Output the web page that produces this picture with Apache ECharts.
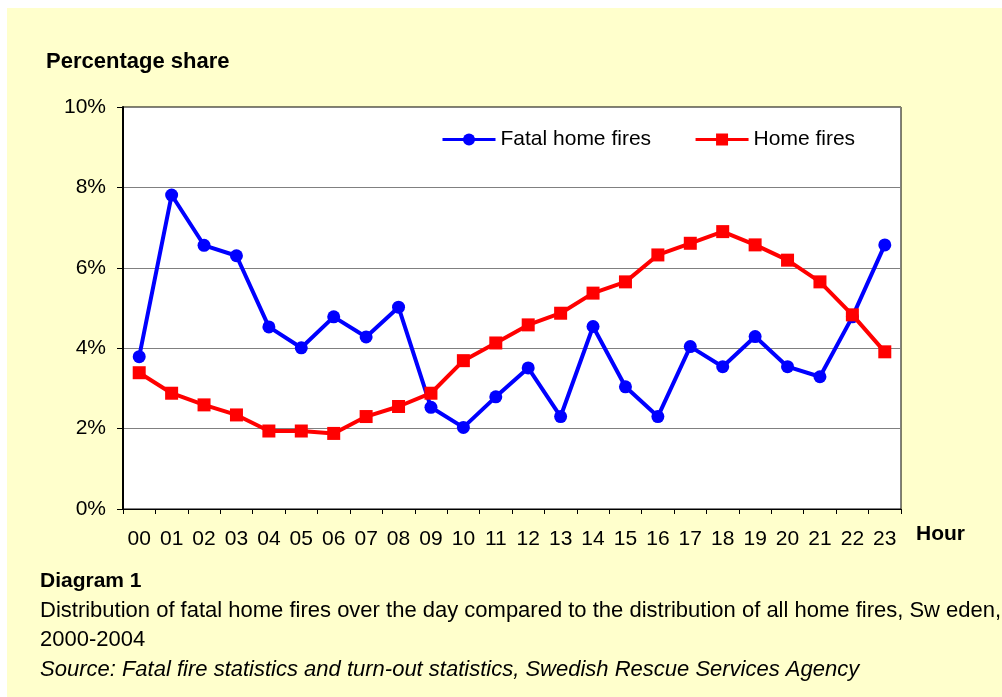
<!DOCTYPE html>
<html>
<head>
<meta charset="utf-8">
<script src="https://cdn.jsdelivr.net/npm/echarts@6/dist/echarts.min.js"></script>
<style>
html,body{margin:0;padding:0;background:#fff;}
#chart{width:1002px;height:697px;}
</style>
</head>
<body>
<div id="chart"></div>
<script>
const hours = ['00','01','02','03','04','05','06','07','08','09','10','11','12','13','14','15','16','17','18','19','20','21','22','23'];
const fatalHomeFires = [3.79,7.81,6.56,6.30,4.53,4.01,4.78,4.28,5.02,2.53,2.03,2.79,3.51,2.30,4.54,3.04,2.30,4.04,3.54,4.29,3.54,3.29,4.78,6.57];
const homeFires = [3.39,2.88,2.59,2.34,1.94,1.94,1.88,2.30,2.55,2.88,3.69,4.13,4.58,4.87,5.37,5.65,6.32,6.61,6.90,6.57,6.19,5.65,4.83,3.91];
const yTicks = {min:0, max:10, interval:2};

const FONT = 'Liberation Sans, Arial, sans-serif';
const chart = echarts.init(document.getElementById('chart'), null, {renderer:'canvas'});
chart.setOption({
  backgroundColor:'#fff',
  animation:false,
  graphic:[
    {type:'rect', left:7, top:8, z:-10, shape:{width:995, height:689}, style:{fill:'#FFFFCC'}},
    {type:'text', left:46, top:51, style:{text:'Percentage share', font:'bold 22px '+FONT, fill:'#000'}},
    {type:'text', left:916, top:524, style:{text:'Hour', font:'bold 21px '+FONT, fill:'#000'}},
    {type:'text', left:40, top:571, style:{text:'Diagram 1', font:'bold 21px '+FONT, fill:'#000'}},
    {type:'text', left:40, top:600, style:{text:'Distribution of fatal home fires over the day compared to the distribution of all home fires, Sw eden,', font:'22px '+FONT, fill:'#000'}},
    {type:'text', left:40, top:629, style:{text:'2000-2004', font:'22px '+FONT, fill:'#000'}},
    {type:'text', left:40, top:659, style:{text:'Source: Fatal fire statistics and turn-out statistics, Swedish Rescue Services Agency', font:'italic 22px '+FONT, fill:'#000'}}
  ],
  grid:{left:123, top:107, right:101, bottom:188, show:true, backgroundColor:'#fff', borderColor:'#000', borderWidth:1},
  legend:{
    left:441, top:129, padding:0, itemWidth:53, itemHeight:15, itemGap:43,
    lineStyle:{width:3},
    textStyle:{fontFamily:FONT, fontSize:21, color:'#000', padding:[0,0,0,0]},
    data:['Fatal home fires','Home fires']
  },
  xAxis:{
    type:'category', data:hours, boundaryGap:true,
    axisLine:{lineStyle:{color:'#000', width:1}},
    axisTick:{show:true, length:5, lineStyle:{color:'#000'}},
    axisLabel:{fontFamily:FONT, fontSize:21, color:'#000', margin:20, interval:0},
    splitLine:{show:false}
  },
  yAxis:{
    type:'value', min:yTicks.min, max:yTicks.max, interval:yTicks.interval,
    axisLine:{show:true, lineStyle:{color:'#000', width:2}},
    axisTick:{show:true, length:6, lineStyle:{color:'#000'}},
    axisLabel:{fontFamily:FONT, fontSize:21, color:'#000', margin:17, formatter:'{value}%'},
    splitLine:{show:true, lineStyle:{color:'#808080', width:1}}
  },
  series:[
    {name:'Fatal home fires', type:'line', data:fatalHomeFires, symbol:'circle', symbolSize:13,
     lineStyle:{color:'#0000FF', width:4}, itemStyle:{color:'#0000FF'}, z:2},
    {name:'Home fires', type:'line', data:homeFires, symbol:'rect', symbolSize:13,
     lineStyle:{color:'#FF0000', width:4}, itemStyle:{color:'#FF0000'}, z:3}
  ]
});
</script>
</body>
</html>
